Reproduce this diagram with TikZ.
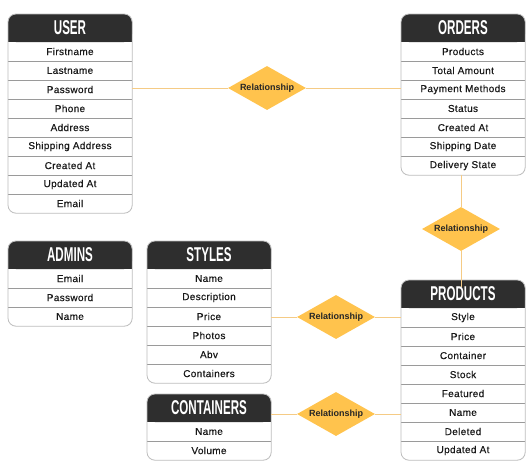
\documentclass[tikz,border=0pt]{standalone}
\usepackage{fontspec}
\usepackage{tikz}
\usetikzlibrary{shapes.geometric}
\setmainfont{Liberation Sans}
\newfontfamily\rowfont{Liberation Sans}[LetterSpace=3.5, FakeBold=0.4]
\definecolor{hdrgray}{HTML}{2E2E2E}
\definecolor{relfill}{HTML}{FFC34D}
\definecolor{relline}{HTML}{F5CB85}
\definecolor{tblline}{HTML}{BDBDBD}
\definecolor{sepline}{HTML}{9A9A9A}
\newcommand{\hdrtext}[1]{\scalebox{0.58}[1]{\fontsize{20}{20}\selectfont\bfseries #1}}
% one entity table: name, left x, top y, title, rows
\newcommand{\ertable}[5]{%
  \fill[hdrgray, rounded corners=8pt] (#2,#3) rectangle (#2+124,#3+28);
  \fill[hdrgray] (#2,#3+14) rectangle (#2+124,#3+28);
  \node[hdr] (#1) at (#2+62,#3+14) {\hdrtext{#4}};
  \foreach \t [count=\i] in {#5} {
    \node[row] (#1-\i) at (#2+62,#3+28+19*\i-9.5) {\t};
    \ifnum\i>1 \draw[sep] (#1-\i.north west) -- (#1-\i.north east); \fi
    \xdef\lastrow{\i}
  }
  \draw[tbl] (#2,#3) rectangle (#1-\lastrow.south east);
}
\begin{document}
\begin{tikzpicture}[x=1pt,y=-1pt,
    hdr/.style={text=white, inner sep=0pt},
    row/.style={minimum width=124pt, minimum height=19pt, inner sep=0pt,
      text=black!90, font=\rowfont\fontsize{10}{12}\selectfont},
    sep/.style={draw=sepline, line width=0.5pt},
    tbl/.style={draw=tblline, line width=0.8pt, rounded corners=8pt},
    rel/.style={diamond, fill=relfill, minimum width=78pt, minimum height=44pt,
      inner sep=0pt, aspect=1.77, text=black!85,
      font=\bfseries\fontsize{9}{11}\selectfont},
    link/.style={draw=relline, line width=0.8pt}]
  \useasboundingbox (0,0) rectangle (532,469);
  \fill[white] (0,0) rectangle (532,469);

  \ertable{user}{8}{14}{USER}{Firstname,Lastname,Password,Phone,Address,Shipping Address,Created At,Updated At,Email}
  \ertable{orders}{401}{14}{ORDERS}{Products,Total Amount,Payment Methods,Status,Created At,Shipping Date,Delivery State}
  \ertable{admins}{8}{241}{ADMINS}{Email,Password,Name}
  \ertable{styles}{147}{241}{STYLES}{Name,Description,Price,Photos,Abv,Containers}
  \ertable{containers}{147}{394}{CONTAINERS}{Name,Volume}
  \ertable{products}{401}{280}{PRODUCTS}{Style,Price,Container,Stock,Featured,Name,Deleted,Updated At}

  \node[rel] (rel1) at (267,88) {Relationship};
  \node[rel] (rel2) at (461,229) {Relationship};
  \node[rel] (rel3) at (336,317) {Relationship};
  \node[rel] (rel4) at (336,414) {Relationship};

  \draw[link] (user-3.east |- rel1) -- (rel1) -- (orders-3.west |- rel1);
  \draw[link] (rel2 |- orders-7.south) -- (rel2) -- (rel2 |- products.north);
  \draw[link] (styles-3.east |- rel3) -- (rel3) -- (products-1.west |- rel3);
  \draw[link] (containers-1.east |- rel4) -- (rel4) -- (products-6.west |- rel4);
\end{tikzpicture}
\end{document}
